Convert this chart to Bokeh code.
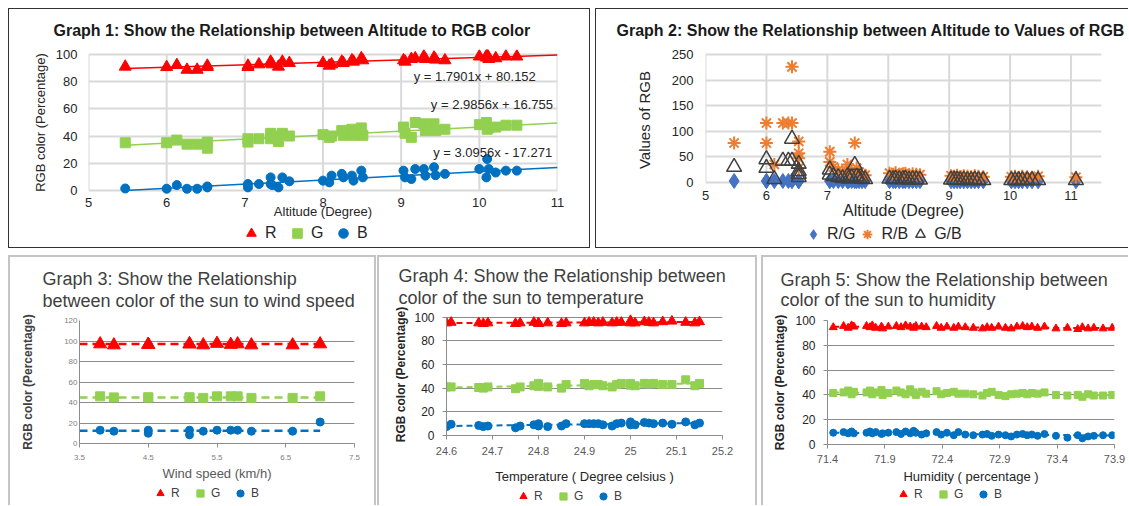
from bokeh.plotting import figure
from bokeh.models import Range1d, FixedTicker, Legend, LegendItem, Label, Spacer
from bokeh.layouts import row, column
from bokeh.embed import file_html
from bokeh.resources import INLINE

FONT = "Liberation Sans"
RED, GREEN, BLUE = "#FF0000", "#92D050", "#0070C0"
NAN = float("nan")

# ---------------- Graph 1 data ----------------
alt1 = [5.47, 6.00, 6.13, 6.26, 6.39, 6.52, 6.52, 7.04, 7.04, 7.18, 7.33, 7.33, 7.35, 7.43, 7.48,
        7.57, 8.00, 8.08, 8.11, 8.24, 8.26, 8.37, 8.39, 8.49, 8.51, 9.03, 9.05, 9.13, 9.18, 9.29,
        9.31, 9.42, 9.44, 9.56, 10.00, 10.09, 10.10, 10.12, 10.21, 10.34, 10.48]
r1 = [91.3, 91.0, 92.5, 89.0, 89.0, 91.0, 92.0, 92.0, 91.0, 93.0, 95.0, 94.0, 93.0, 91.3, 95.0,
      94.0, 94.0, 92.0, 93.0, 95.0, 94.0, 96.0, 95.0, 97.5, 96.0, 96.0, 95.0, 97.0, 97.5, 98.8,
      97.0, 98.0, 96.5, 96.0, 98.8, 98.0, 100.0, 97.0, 97.5, 98.8, 98.8]
g1 = [35.0, 35.0, 37.0, 34.0, 34.0, 35.5, 31.0, 38.0, 35.5, 38.0, 42.0, 38.0, 40.0, 36.0, 42.0,
      40.0, 41.0, 39.0, 40.0, 44.0, 40.5, 45.0, 40.5, 46.0, 40.5, 46.6, 42.0, 39.0, 50.0, 49.0,
      44.0, 49.0, 44.0, 45.0, 48.4, 50.0, 45.0, 46.0, 46.6, 48.0, 48.0]
b1 = [1.2, 1.0, 3.7, 1.0, 1.0, 2.0, 2.7, 4.5, 2.0, 4.5, 9.4, 4.5, 3.7, 2.0, 9.4,
      6.5, 7.0, 5.7, 10.7, 12.0, 9.4, 10.7, 7.0, 14.4, 9.4, 14.4, 9.4, 8.2, 15.6, 15.6,
      10.7, 16.9, 11.0, 12.0, 15.6, 9.4, 23.0, 15.6, 13.0, 14.4, 14.4]
trend1_slope = [1.7901, 2.9856, 3.0956]
trend1_icpt = [80.152, 16.755, -17.271]
trend1_text = ["y = 1.7901x + 80.152", "y = 2.9856x + 16.755", "y = 3.0956x - 17.271"]
trend1_x = [5.47, 11.0]
g1_xticks = [5, 6, 7, 8, 9, 10, 11]
g1_yticks = [0, 20, 40, 60, 80, 100]

# ---------------- Graph 2 data ----------------
alt2 = [5.47, 6.00, 6.00, 6.13, 6.27, 6.36, 6.42, 6.42, 6.53, 6.53, 6.53, 6.53,
        7.04, 7.04, 7.10, 7.18, 7.25, 7.33, 7.35, 7.40, 7.45, 7.48, 7.52, 7.57, 7.62,
        8.02, 8.08, 8.12, 8.18, 8.24, 8.28, 8.34, 8.40, 8.46, 8.52,
        9.03, 9.08, 9.13, 9.18, 9.24, 9.30, 9.36, 9.42, 9.48, 9.56,
        10.02, 10.08, 10.14, 10.20, 10.28, 10.36, 10.46,
        11.08]
rg2 = [2.6, 2.5, 2.6, 2.5, 2.6, 2.6, 2.7, 2.6, 2.6, 2.8, 2.6, 2.5,
       2.4, 2.6, 2.4, 2.5, 2.4, 2.3, 2.4, 2.5, 2.3, 2.4, 2.4, 2.3, 2.4,
       2.3, 2.4, 2.3, 2.2, 2.3, 2.4, 2.2, 2.3, 2.2, 2.3,
       2.2, 2.1, 2.2, 2.0, 2.1, 2.2, 2.0, 2.1, 2.2, 2.1,
       2.0, 2.1, 2.0, 2.1, 2.0, 2.1, 2.0,
       2.1]
rb2 = [77, 116, 77, 35, 116, 116, 226, 116, 80, 57, 47, 28,
       60, 40, 30, 24, 20, 35, 18, 22, 77, 28, 20, 16, 14,
       18, 16, 19, 15, 17, 18, 14, 17, 16, 15,
       13, 12, 14, 11, 13, 12, 11, 13, 12, 11,
       11, 12, 10, 12, 11, 10, 12,
       10]
gb2 = [30, 45, 28, 6, 42, 42, 85, 42, 36, 22, 16, 10,
       25, 15, 12, 10, 8, 12, 7, 9, 34, 11, 8, 7, 6,
       7, 6, 7, 6, 6, 7, 5, 6, 6, 5,
       5, 5, 5, 4, 5, 4, 4, 5, 4, 4,
       4, 4, 4, 4, 4, 4, 4,
       4]
g2_xticks = [5, 6, 7, 8, 9, 10, 11]
g2_yticks = [0, 50, 100, 150, 200, 250]

# ---------------- Graph 3 data ----------------
wind = [3.8, 4.0, 4.5, 4.5, 5.1, 5.1, 5.3, 5.5, 5.7, 5.8, 6.0, 6.6, 7.0]
r3 = [97.0, 96.0, 96.5, 96.5, 97.0, 97.0, 96.0, 97.5, 96.5, 97.0, 96.0, 96.0, 97.0]
g3 = [46.0, 45.0, 45.0, 45.0, 45.0, 45.0, 44.5, 46.0, 46.0, 46.0, 44.5, 44.5, 46.0]
b3 = [13.0, 12.0, 13.0, 10.0, 13.0, 8.5, 12.0, 13.0, 13.0, 13.0, 12.0, 12.0, 21.0]
trend3_x = [3.5, 7.0]
trend3_r = [97.0, 97.0]
trend3_g = [45.0, 45.0]
trend3_b = [12.5, 12.5]
wind_ticks = [3.5, 4.5, 5.5, 6.5, 7.5]
wind_labels = ["3.5", "4.5", "5.5", "6.5", "7.5"]

# ---------------- Graph 4 data ----------------
temp = [24.60, 24.61, 24.67, 24.68, 24.69, 24.75, 24.76, 24.79, 24.80, 24.80, 24.82, 24.85,
        24.86, 24.90, 24.91, 24.92, 24.93, 24.94, 24.96, 24.97, 24.98, 25.00, 25.00, 25.01,
        25.03, 25.04, 25.05, 25.07, 25.09, 25.12, 25.14, 25.15]
r4 = [95.0, 95.5, 95.0, 94.5, 95.0, 94.5, 95.0, 95.5, 95.0, 94.5, 95.0, 94.5,
      95.0, 95.0, 95.5, 95.5, 95.0, 95.5, 95.0, 95.5, 95.5, 97.0, 95.0, 95.0,
      96.0, 95.5, 95.0, 96.0, 96.5, 95.5, 95.0, 96.0]
g4 = [41.0, 41.0, 40.5, 40.0, 41.0, 39.5, 41.0, 42.0, 44.0, 41.5, 41.0, 40.0,
      43.0, 44.0, 42.0, 43.0, 43.0, 42.0, 41.0, 43.0, 44.0, 44.0, 42.5, 42.0,
      44.0, 43.5, 44.0, 43.0, 43.0, 47.0, 42.0, 44.0]
b4 = [7.5, 9.5, 8.5, 7.5, 8.0, 6.5, 8.0, 9.0, 10.0, 8.0, 7.5, 8.0,
      10.0, 10.0, 10.0, 10.0, 10.0, 9.0, 8.0, 10.0, 10.5, 11.5, 9.0, 9.0,
      11.0, 10.5, 10.0, 10.5, 9.5, 11.5, 9.0, 10.5]
trend4_x = [24.60, 25.15]
trend4_r = [95.0, 95.8]
trend4_g = [40.5, 44.0]
trend4_b = [8.0, 10.5]
temp_ticks = [24.6, 24.7, 24.8, 24.9, 25.0, 25.1, 25.2]
temp_labels = ["24.6", "24.7", "24.8", "24.9", "25", "25.1", "25.2"]

# ---------------- Graph 5 data ----------------
hum = [71.45, 71.54, 71.58, 71.61, 71.63, 71.74, 71.77, 71.79, 71.82, 71.87, 71.88, 71.93,
       72.00, 72.04, 72.08, 72.12, 72.15, 72.17, 72.22, 72.26, 72.35, 72.39, 72.44, 72.50,
       72.54, 72.60, 72.67, 72.75, 72.79, 72.83, 72.89, 72.95, 73.00, 73.05, 73.10, 73.14,
       73.18, 73.23, 73.29, 73.39, 73.49, 73.58, 73.62, 73.67, 73.72, 73.80, 73.88]
r5 = [94.5, 95.5, 94.0, 96.0, 95.0, 95.5, 94.5, 96.0, 94.0, 95.0, 93.5, 95.0,
      95.5, 94.5, 96.0, 95.0, 94.0, 95.5, 95.0, 94.5, 95.5, 94.0, 95.0, 94.0,
      95.0, 94.5, 94.0, 93.5, 94.5, 94.0, 95.0, 94.0, 93.5, 95.0, 95.5, 94.5,
      95.0, 94.0, 95.0, 93.5, 94.0, 93.0, 94.5, 93.5, 94.0, 93.5, 94.0]
g5 = [41.5, 42.0, 43.5, 40.5, 42.5, 42.0, 43.5, 40.5, 42.0, 44.0, 40.0, 41.5,
      43.5, 42.0, 40.5, 44.5, 42.0, 40.0, 42.5, 41.0, 43.0, 40.5, 41.5, 42.5,
      41.0, 41.0, 40.5, 39.5, 41.5, 42.5, 40.0, 39.0, 40.5, 41.0, 41.5, 40.5,
      41.5, 41.0, 42.0, 40.0, 39.5, 40.0, 38.5, 40.5, 39.5, 39.5, 40.0]
b5 = [9.5, 10.0, 9.0, 10.5, 9.0, 9.5, 10.5, 9.0, 10.0, 8.5, 9.0, 9.5,
      10.0, 8.5, 10.5, 9.0, 11.0, 9.5, 8.0, 9.0, 10.0, 8.0, 9.5, 7.5,
      10.0, 8.0, 7.5, 8.0, 8.5, 7.0, 8.0, 7.5, 6.5, 8.0, 8.5, 7.5,
      8.0, 7.0, 8.5, 7.0, 5.5, 7.5, 5.0, 6.5, 7.0, 7.5, 7.5]
trend5_x = [71.45, 73.90]
trend5_r = [95.0, 93.8]
trend5_g = [42.0, 39.8]
trend5_b = [9.5, 7.2]
hum_ticks = [71.4, 71.9, 72.4, 72.9, 73.4, 73.9]
hum_labels = ["71.4", "71.9", "72.4", "72.9", "73.4", "73.9"]

TOPB = "1px solid #333333"
BOTB = "2px solid #c4c4c4"


def make_fig(w, h, xr, yr, mb, styles):
    p = figure(width=w, height=h, x_range=Range1d(*xr), y_range=Range1d(*yr),
               output_backend="svg", toolbar_location=None,
               min_border_left=mb[0], min_border_right=mb[1],
               min_border_top=mb[2], min_border_bottom=mb[3], styles=styles)
    p.outline_line_color = None
    p.background_fill_color = "white"
    p.border_fill_color = "white"
    return p


def style_axes(p, tick_size, tick_color, lab_size, lab_color, axis_color=None,
               ytick_size=None, ytick_color=None):
    for ax, ts, tc in [(p.xaxis, tick_size, tick_color),
                       (p.yaxis, ytick_size or tick_size, ytick_color or tick_color)]:
        ax.major_label_text_font = FONT
        ax.major_label_text_font_size = ts
        ax.major_label_text_color = tc
        ax.axis_label_text_font = FONT
        ax.axis_label_text_font_size = lab_size
        ax.axis_label_text_color = lab_color
        ax.axis_label_text_font_style = "normal"
        ax.minor_tick_line_color = None
        if axis_color is None:
            ax.axis_line_color = None
            ax.major_tick_line_color = None
            ax.major_tick_out = 0
        else:
            ax.axis_line_color = axis_color
            ax.major_tick_line_color = axis_color
            ax.major_tick_out = 4
            ax.major_tick_in = 0


def legend_strip(w, h, styles, specs, labels, size, color, glyph, spacing, standoff, loc):
    f = figure(width=w, height=h, x_range=Range1d(0, 1), y_range=Range1d(0, 1),
               output_backend="svg", toolbar_location=None, x_axis_type=None, y_axis_type=None,
               min_border=0, min_border_left=0, min_border_right=0, min_border_top=0,
               min_border_bottom=0, styles=styles)
    f.outline_line_color = None
    f.background_fill_color = "white"
    f.border_fill_color = "white"
    rends = [f.scatter(x=[NAN], y=[NAN], **kw) for kw in specs]
    items = [LegendItem(label=l, renderers=[r]) for l, r in zip(labels, rends)]
    lg = Legend(items=items, orientation="horizontal", location=loc,
                border_line_color=None, background_fill_alpha=0,
                label_text_font=FONT, label_text_font_size=size, label_text_color=color,
                glyph_width=glyph, glyph_height=glyph, label_height=glyph,
                spacing=spacing, padding=0, margin=0, label_standoff=standoff)
    f.add_layout(lg)
    return f


def rgb_specs():
    return [dict(marker="triangle", color=RED), dict(marker="square", color=GREEN),
            dict(marker="circle", color=BLUE)]


def top_title(p, text, offset, standoff):
    p.title.text = text
    p.title.text_font = FONT
    p.title.text_font_size = "16px"
    p.title.text_font_style = "bold"
    p.title.text_color = "#1a1a1a"
    p.title.align = "left"
    p.title.offset = offset
    p.title.standoff = standoff


# =============== Graph 1 ===============
p1 = make_fig(582, 212, (5, 11), (-4, 104), (79, 34, 39, 26),
              {"border-top": TOPB, "border-left": TOPB, "border-right": TOPB})
top_title(p1, "Graph 1: Show the Relationship between Altitude to RGB color", -35, 21)
p1.xaxis.ticker = FixedTicker(ticks=g1_xticks)
p1.yaxis.ticker = FixedTicker(ticks=g1_yticks)
p1.ygrid.ticker = p1.yaxis.ticker
p1.xgrid.grid_line_color = None
p1.ygrid.grid_line_color = "#d9d9d9"
p1.ygrid.grid_line_width = 2
p1.segment(x0=g1_xticks, y0=[g1_yticks[0]] * len(g1_xticks), x1=g1_xticks,
           y1=[g1_yticks[-1]] * len(g1_xticks), line_color="#d9d9d9", line_width=2, level="underlay")
style_axes(p1, "13px", "#262626", "13px", "#262626")
p1.yaxis.major_label_standoff = 11
p1.xaxis.major_label_standoff = 2
p1.xaxis.axis_label = "Altitude (Degree)"
p1.yaxis.axis_label = "RGB color (Percentage)"
p1.xaxis.axis_label_standoff = -6
p1.yaxis.axis_label_standoff = 5

for s, c, ic in zip(trend1_slope, [RED, GREEN, BLUE], trend1_icpt):
    p1.line(trend1_x, [s * x + ic for x in trend1_x], line_color=c, line_width=1.5)
p1.scatter(alt1, r1, marker="triangle", size=12, color=RED)
p1.scatter(alt1, g1, marker="square", size=10, color=GREEN)
p1.scatter(alt1, b1, marker="circle", size=9, color=BLUE)
for txt, lx, ly in zip(trend1_text, [9.16, 9.38, 9.41], [83.7, 63.0, 28.1]):
    p1.add_layout(Label(x=lx, y=ly, text=txt, text_font=FONT, text_font_size="13px",
                        text_color="#262626", text_baseline="middle"))
s1 = legend_strip(582, 28, {"border-bottom": TOPB, "border-left": TOPB, "border-right": TOPB},
                  rgb_specs(), ["R", "G", "B"], "16px", "#262626", 24, 0, 2, (151, 3))

# =============== Graph 2 ===============
p2 = make_fig(533, 213, (5, 11.5), (-16, 260), (109, 28, 39, 32),
              {"border-top": TOPB, "border-left": TOPB})
top_title(p2, "Graph 2: Show the Relationship between Altitude to Values of RGB", -89, 21)
p2.xaxis.ticker = FixedTicker(ticks=g2_xticks)
p2.yaxis.ticker = FixedTicker(ticks=g2_yticks)
p2.ygrid.ticker = p2.yaxis.ticker
p2.xgrid.grid_line_color = None
p2.ygrid.grid_line_color = "#d9d9d9"
p2.ygrid.grid_line_width = 2
p2.segment(x0=g2_xticks, y0=[g2_yticks[0]] * len(g2_xticks), x1=g2_xticks,
           y1=[g2_yticks[-1]] * len(g2_xticks), line_color="#d9d9d9", line_width=2, level="underlay")
style_axes(p2, "13px", "#262626", "16px", "#262626")
p2.yaxis.axis_label_text_font_size = "15px"
p2.yaxis.major_label_standoff = 12
p2.xaxis.major_label_standoff = 0
p2.xaxis.axis_label = "Altitude (Degree)"
p2.yaxis.axis_label = "Values of RGB"
p2.xaxis.axis_label_standoff = -1
p2.yaxis.axis_label_standoff = 16
p2.scatter(alt2, rg2, marker="diamond", size=15, color="#4472C4")
p2.scatter(alt2, rb2, marker="asterisk", size=13, line_color="#ED7D31", line_width=2)
p2.scatter(alt2, gb2, marker="triangle", size=15, fill_color=None,
           line_color="#404040", line_width=1.5)
s2 = legend_strip(533, 27, {"border-bottom": TOPB, "border-left": TOPB},
                  [dict(marker="diamond", color="#4472C4"),
                   dict(marker="asterisk", line_color="#ED7D31", line_width=2),
                   dict(marker="triangle", fill_color=None, line_color="#404040", line_width=1.5)],
                  ["R/G", "R/B", "G/B"], "16px", "#262626", 24, 0, 2, (96, 2))


# =============== bottom graphs ===============
def bottom_fig(w, xr, yr, mb, yticks, xticks, xlabels, title, toff, tst, tlh, xlab, styles,
               valign="bottom"):
    p = make_fig(w, 229, xr, yr, mb, styles)
    p.title.text = title
    p.title.align = "left"
    p.title.vertical_align = valign
    p.title.offset = toff
    p.title.text_font = FONT
    p.title.text_font_size = "18px"
    p.title.text_font_style = "normal"
    p.title.text_color = "#404040"
    p.title.text_line_height = tlh
    p.title.standoff = tst
    p.xaxis.ticker = FixedTicker(ticks=xticks)
    p.xaxis.major_label_overrides = dict(zip(xticks, xlabels))
    p.yaxis.ticker = FixedTicker(ticks=yticks)
    p.yaxis.bounds = (yticks[0], yticks[-1])
    p.ygrid.ticker = p.yaxis.ticker
    p.xgrid.grid_line_color = None
    p.ygrid.grid_line_color = "#8c8c8c"
    p.ygrid.grid_line_width = 1
    p.xaxis.axis_label = xlab
    p.yaxis.axis_label = "RGB color (Percentage)"
    return p


# Graph 3
p3 = bottom_fig(368, (3.5, 7.5), (0, 120), (69, 24, 62, 43), [0, 20, 40, 60, 80, 100, 120],
                wind_ticks, wind_labels,
                "Graph 3: Show the Relationship\nbetween color of the sun to wind speed", -37, 19, 1.1,
                "Wind speed (km/h)", {"border-top": BOTB, "border-left": BOTB, "border-right": BOTB})
style_axes(p3, "8px", "#7f7f7f", "13px", "#595959", axis_color="#8c8c8c")
p3.yaxis.axis_label_text_font_style = "bold"
p3.yaxis.axis_label_text_font_size = "12px"
p3.yaxis.axis_label_text_color = "#404040"
p3.yaxis.major_tick_out = 0
p3.yaxis.major_label_standoff = 2
p3.yaxis.axis_label_standoff = 26
p3.xaxis.major_label_standoff = 7
p3.xaxis.axis_label_standoff = 3
for xs, ys, c in [(trend3_x, trend3_r, RED), (trend3_x, trend3_g, GREEN), (trend3_x, trend3_b, BLUE)]:
    p3.line(xs, ys, line_color=c, line_width=2.5, line_dash="8 5")
p3.scatter(wind, r3, marker="triangle", size=13, color=RED)
p3.scatter(wind, g3, marker="square", size=9, color=GREEN)
p3.scatter(wind, b3, marker="circle", size=8, color=BLUE)
s3 = legend_strip(368, 21, {"border-left": BOTB, "border-right": BOTB},
                  rgb_specs(), ["R", "G", "B"], "12px", "#404040", 18, 0, 2, (72, 3))

# Graph 4
p4 = bottom_fig(380, (24.6, 25.2), (0, 103), (67, 37, 56, 50), [0, 20, 40, 60, 80, 100],
                temp_ticks, temp_labels,
                "Graph 4: Show the Relationship between\ncolor of   the sun to temperature", -48, 12, 1.1,
                "Temperature ( Degree celsius )",
                {"border-top": BOTB, "border-left": BOTB, "border-right": BOTB})
style_axes(p4, "11px", "#595959", "13px", "#262626", axis_color="#8c8c8c",
           ytick_size="12px", ytick_color="#262626")
p4.yaxis.axis_label_text_font_style = "bold"
p4.yaxis.axis_label_text_font_size = "12px"
p4.yaxis.major_label_standoff = 8
p4.yaxis.axis_label_standoff = 3
p4.xaxis.major_label_standoff = 7
p4.xaxis.axis_label_standoff = 11
for xs, ys, c in [(trend4_x, trend4_r, RED), (trend4_x, trend4_g, GREEN), (trend4_x, trend4_b, BLUE)]:
    p4.line(xs, ys, line_color=c, line_width=2, line_dash="6 4")
p4.scatter(temp, r4, marker="triangle", size=10, color=RED)
p4.scatter(temp, g4, marker="square", size=8, color=GREEN)
p4.scatter(temp, b4, marker="circle", size=8, color=BLUE)
s4 = legend_strip(380, 21, {"border-left": BOTB, "border-right": BOTB},
                  rgb_specs(), ["R", "G", "B"], "12px", "#404040", 18, 0, 2, (68, 0))

# Graph 5
p5 = bottom_fig(367, (71.4, 73.9), (0, 100), (64, 16, 63, 41), [0, 20, 40, 60, 80, 100],
                hum_ticks, hum_labels,
                "Graph 5: Show the Relationship between\ncolor of the sun to humidity", -47, 18, 1.0,
                "Humidity ( percentage )", {"border-top": BOTB, "border-left": BOTB}, valign="top")
style_axes(p5, "11px", "#595959", "13px", "#262626", axis_color="#8c8c8c",
           ytick_size="12px", ytick_color="#262626")
p5.yaxis.axis_label_text_font_style = "bold"
p5.yaxis.axis_label_text_font_size = "12px"
p5.yaxis.major_label_standoff = 8
p5.yaxis.axis_label_standoff = 5
p5.xaxis.major_label_standoff = 6
p5.xaxis.axis_label_standoff = 3
for xs, ys, c in [(trend5_x, trend5_r, RED), (trend5_x, trend5_g, GREEN), (trend5_x, trend5_b, BLUE)]:
    p5.line(xs, ys, line_color=c, line_width=2, line_dash="6 4")
p5.scatter(hum, r5, marker="triangle", size=8, color=RED)
p5.scatter(hum, g5, marker="square", size=7, color=GREEN)
p5.scatter(hum, b5, marker="circle", size=7, color=BLUE)
s5 = legend_strip(367, 21, {"border-left": BOTB},
                  rgb_specs(), ["R", "G", "B"], "12px", "#404040", 18, 0, 2, (67, 2))

top = row(Spacer(width=8, height=240), column(p1, s1), Spacer(width=5, height=240), column(p2, s2))
bottom = row(Spacer(width=8, height=250), column(p3, s3), Spacer(width=1, height=250),
             column(p4, s4), Spacer(width=4, height=250), column(p5, s5))
layout = column(Spacer(width=1128, height=8), top, Spacer(width=1128, height=7), bottom)
open("out.html", "w").write(file_html(layout, INLINE))
